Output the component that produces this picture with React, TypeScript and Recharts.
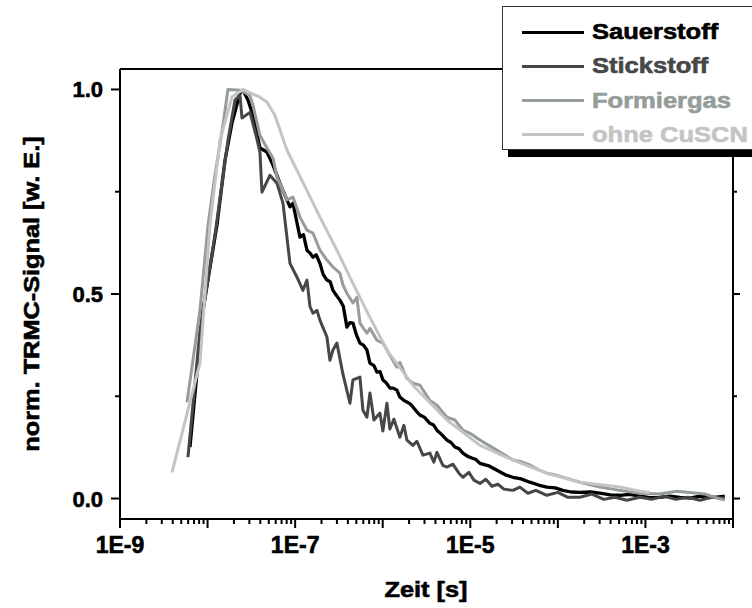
import React from 'react';
import { LineChart, Line, XAxis, YAxis, ReferenceLine } from 'recharts';

// [log10(t / s), normalized TRMC signal]
const sauerstoff = [
  [-8.201, 0.126], [-8.053, 0.46], [-7.893, 0.668], [-7.801, 0.827], [-7.721, 0.918],
  [-7.63, 0.991], [-7.596, 0.998], [-7.539, 0.974], [-7.482, 0.937], [-7.402, 0.857],
  [-7.322, 0.847], [-7.253, 0.815], [-7.174, 0.771], [-7.094, 0.73], [-7.059, 0.713],
  [-7.025, 0.722], [-6.945, 0.639], [-6.905, 0.645], [-6.865, 0.607], [-6.83, 0.6],
  [-6.797, 0.59], [-6.76, 0.596], [-6.717, 0.575], [-6.68, 0.548], [-6.637, 0.534],
  [-6.6, 0.53], [-6.568, 0.509], [-6.53, 0.497], [-6.489, 0.485], [-6.45, 0.47],
  [-6.409, 0.419], [-6.375, 0.43], [-6.34, 0.429], [-6.3, 0.4], [-6.26, 0.38],
  [-6.22, 0.375], [-6.18, 0.363], [-6.146, 0.331], [-6.1, 0.325], [-6.066, 0.309],
  [-6.03, 0.31], [-5.998, 0.29], [-5.96, 0.283], [-5.918, 0.27], [-5.88, 0.27],
  [-5.838, 0.265], [-5.804, 0.248], [-5.76, 0.24], [-5.724, 0.236], [-5.69, 0.232],
  [-5.655, 0.224], [-5.61, 0.212], [-5.575, 0.204], [-5.52, 0.198], [-5.461, 0.184],
  [-5.42, 0.18], [-5.381, 0.167], [-5.32, 0.155], [-5.267, 0.143], [-5.22, 0.137],
  [-5.176, 0.126], [-5.13, 0.122], [-5.084, 0.111], [-5.03, 0.103], [-4.982, 0.099],
  [-4.94, 0.096], [-4.89, 0.086], [-4.79, 0.08], [-4.696, 0.069], [-4.6, 0.058],
  [-4.514, 0.052], [-4.42, 0.048], [-4.32, 0.04], [-4.22, 0.033], [-4.126, 0.028],
  [-4.03, 0.026], [-3.943, 0.02], [-3.85, 0.016], [-3.749, 0.015], [-3.63, 0.016],
  [-3.521, 0.013], [-3.4, 0.009], [-3.292, 0.008], [-3.18, 0.01], [-3.064, 0.006],
  [-2.95, 0.002], [-2.836, 0.003], [-2.72, 0.006], [-2.607, 0.003], [-2.49, 0.001],
  [-2.379, 0.006], [-2.29, 0.005], [-2.208, 0.003], [-2.094, 0.006],
];

const stickstoff = [
  [-8.224, 0.101], [-8.087, 0.411], [-7.916, 0.644], [-7.767, 0.876], [-7.687, 0.974],
  [-7.63, 0.986], [-7.607, 0.93], [-7.516, 0.944], [-7.447, 0.888], [-7.402, 0.847],
  [-7.379, 0.749], [-7.288, 0.79], [-7.208, 0.771], [-7.139, 0.722], [-7.059, 0.575],
  [-6.979, 0.541], [-6.911, 0.509], [-6.865, 0.534], [-6.831, 0.47], [-6.797, 0.453],
  [-6.751, 0.46], [-6.717, 0.436], [-6.637, 0.395], [-6.603, 0.338], [-6.568, 0.363],
  [-6.523, 0.38], [-6.454, 0.304], [-6.374, 0.233], [-6.34, 0.29], [-6.26, 0.297],
  [-6.226, 0.216], [-6.18, 0.199], [-6.146, 0.258], [-6.1, 0.192], [-6.032, 0.209],
  [-5.998, 0.165], [-5.952, 0.233], [-5.918, 0.17], [-5.872, 0.194], [-5.804, 0.15],
  [-5.758, 0.179], [-5.724, 0.143], [-5.655, 0.13], [-5.61, 0.14], [-5.541, 0.106],
  [-5.461, 0.111], [-5.416, 0.089], [-5.381, 0.113], [-5.313, 0.081], [-5.267, 0.077],
  [-5.199, 0.084], [-5.13, 0.062], [-5.084, 0.052], [-5.016, 0.064], [-4.959, 0.045],
  [-4.89, 0.037], [-4.822, 0.047], [-4.753, 0.03], [-4.685, 0.035], [-4.616, 0.023],
  [-4.514, 0.02], [-4.434, 0.028], [-4.342, 0.013], [-4.251, 0.02], [-4.126, 0.008],
  [-4.0, 0.015], [-3.886, 0.003], [-3.749, 0.003], [-3.612, 0.011], [-3.475, -0.002],
  [-3.349, 0.003], [-3.212, -0.004], [-3.064, 0.003], [-2.927, -0.002], [-2.79, 0.006],
  [-2.653, -0.002], [-2.516, 0.003], [-2.379, -0.004], [-2.242, 0.003], [-2.094, 0.001],
];

const formiergas = [
  [-8.235, 0.235], [-8.087, 0.46], [-7.995, 0.668], [-7.916, 0.79], [-7.824, 0.913],
  [-7.767, 1.0], [-7.63, 0.998], [-7.596, 0.995], [-7.516, 0.985], [-7.482, 0.962],
  [-7.402, 0.888], [-7.322, 0.857], [-7.253, 0.832], [-7.208, 0.786], [-7.139, 0.754],
  [-7.094, 0.73], [-7.025, 0.737], [-6.945, 0.688], [-6.865, 0.656], [-6.797, 0.649],
  [-6.717, 0.607], [-6.637, 0.583], [-6.568, 0.566], [-6.489, 0.551], [-6.454, 0.522],
  [-6.409, 0.502], [-6.34, 0.478], [-6.295, 0.492], [-6.26, 0.429], [-6.18, 0.404],
  [-6.146, 0.416], [-6.066, 0.387], [-5.998, 0.38], [-5.918, 0.35], [-5.838, 0.321],
  [-5.804, 0.333], [-5.724, 0.294], [-5.655, 0.282], [-5.575, 0.277], [-5.461, 0.24],
  [-5.381, 0.228], [-5.267, 0.199], [-5.176, 0.192], [-5.084, 0.167], [-4.99, 0.158],
  [-4.89, 0.143], [-4.79, 0.13], [-4.696, 0.118], [-4.6, 0.106], [-4.514, 0.094],
  [-4.42, 0.09], [-4.32, 0.082], [-4.22, 0.07], [-4.126, 0.062], [-4.03, 0.058],
  [-3.943, 0.052], [-3.749, 0.04], [-3.521, 0.028], [-3.292, 0.02], [-3.064, 0.013],
  [-2.836, 0.011], [-2.642, 0.018], [-2.493, 0.015], [-2.322, 0.011], [-2.208, 0.003],
  [-2.094, -0.004],
];

const ohneCuSCN = [
  [-8.406, 0.064], [-8.087, 0.331], [-7.973, 0.668], [-7.858, 0.876], [-7.721, 0.982],
  [-7.596, 1.0], [-7.493, 0.99], [-7.402, 0.981], [-7.322, 0.969], [-7.231, 0.937],
  [-7.094, 0.852], [-6.911, 0.773], [-6.717, 0.688], [-6.523, 0.607], [-6.34, 0.526],
  [-6.146, 0.443], [-5.952, 0.363], [-5.655, 0.277], [-5.267, 0.192], [-4.89, 0.13],
  [-4.514, 0.094], [-4.126, 0.062], [-3.749, 0.04], [-3.292, 0.028], [-3.064, 0.018],
  [-2.95, 0.015],
];

const seriesNames = ['Sauerstoff', 'Stickstoff', 'Formiergas', 'ohne CuSCN'];
const seriesData = [sauerstoff, stickstoff, formiergas, ohneCuSCN];
const seriesColors = ['#000000', '#474747', '#959d99', '#c4c4c4'];
const seriesWidths = [3.3, 3, 3, 3];

const xLabelExps = [-9, -7, -5, -3];
const xLabels = ['1E-9', '1E-7', '1E-5', '1E-3'];
const yTicks = [0, 0.25, 0.5, 0.75, 1];
const yLabels = ['0.0', '', '0.5', '', '1.0'];

const decades = [-9, -8, -7, -6, -5, -4, -3];
const xTicks = [
  ...decades.flatMap((d) => [2, 3, 4, 5, 6, 7, 8, 9].map((k) => d + Math.log10(k))),
  ...decades,
  -2,
];

const font = '"Liberation Sans", Arial, Helvetica, sans-serif';

const XTick = (props: any) => {
  const { x, y, payload } = props;
  const v = payload.value;
  const isDecade = Math.abs(v - Math.round(v)) < 1e-6;
  const idx = xLabelExps.findIndex((e) => Math.abs(e - v) < 1e-6);
  return (
    <g>
      <line x1={x} y1={y} x2={x} y2={y + (isDecade ? 9 : 5)} stroke="#000" strokeWidth={2} />
      {idx >= 0 && (
        <text x={x} y={y + 34} textAnchor="middle" fontFamily={font} fontWeight="bold" fontSize={23}
          fill="#000" stroke="#000" strokeWidth={0.6}>
          {xLabels[idx]}
        </text>
      )}
    </g>
  );
};

const YTickLeft = (props: any) => {
  const { x, y, payload } = props;
  const idx = yTicks.findIndex((t) => Math.abs(t - payload.value) < 1e-6);
  const label = idx >= 0 ? yLabels[idx] : '';
  return (
    <g>
      <line x1={x} y1={y} x2={x - (label ? 9 : 5)} y2={y} stroke="#000" strokeWidth={2} />
      {label && (
        <text x={x - 17} y={y + 8} textAnchor="end" fontFamily={font} fontWeight="bold" fontSize={22}
          fill="#000" stroke="#000" strokeWidth={0.6}>
          {label}
        </text>
      )}
    </g>
  );
};

const YTickRight = (props: any) => {
  const { x, y, payload } = props;
  const major = Math.abs(payload.value * 2 - Math.round(payload.value * 2)) < 1e-6;
  return <line x1={x} y1={y} x2={x + (major ? 7 : 4)} y2={y} stroke="#000" strokeWidth={2} />;
};

export default function App() {
  return (
    <div style={{ position: 'absolute', left: 0, top: 0, width: 752, height: 608, overflow: 'hidden', background: '#fff' }}>
      <LineChart width={752} height={608} margin={{ top: 69, right: 0, bottom: 0, left: 60 }}>
        <XAxis
          xAxisId="b"
          dataKey="x"
          type="number"
          domain={[-9, -2]}
          ticks={xTicks}
          interval={0}
          tick={<XTick />}
          tickLine={false}
          tickSize={0}
          tickMargin={0}
          height={89}
          allowDataOverflow
          axisLine={{ stroke: '#000', strokeWidth: 2 }}
        />
        <YAxis
          yAxisId="l"
          type="number"
          domain={[-0.05, 1.05]}
          ticks={yTicks}
          interval={0}
          tick={<YTickLeft />}
          tickLine={false}
          tickSize={0}
          tickMargin={0}
          width={60}
          allowDataOverflow
          axisLine={{ stroke: '#000', strokeWidth: 2 }}
        />
        <YAxis
          yAxisId="r"
          orientation="right"
          type="number"
          domain={[-0.05, 1.05]}
          ticks={yTicks}
          interval={0}
          tick={<YTickRight />}
          tickLine={false}
          tickSize={0}
          tickMargin={0}
          width={19}
          allowDataOverflow
          axisLine={{ stroke: '#000', strokeWidth: 2 }}
        />
        <ReferenceLine xAxisId="b" yAxisId="l" y={1.05} stroke="#000" strokeWidth={2} />
        {seriesData.map((s, i) => (
          <Line
            key={seriesNames[i]}
            xAxisId="b"
            yAxisId="l"
            data={s.map(([x, y]) => ({ x, y }))}
            dataKey="y"
            name={seriesNames[i]}
            type="linear"
            stroke={seriesColors[i]}
            strokeWidth={seriesWidths[i]}
            strokeLinejoin="round"
            dot={false}
            isAnimationActive={false}
          />
        ))}
      </LineChart>

      <div
        style={{
          position: 'absolute', left: 32, top: 294, whiteSpace: 'nowrap',
          transform: 'translate(-50%, -50%) rotate(-90deg) scaleX(1.15)',
          font: `bold 22px ${font}`, lineHeight: '22px', color: '#000',
          WebkitTextStroke: '0.6px #000',
        }}
      >
        norm. TRMC-Signal [w. E.]
      </div>
      <div
        style={{
          position: 'absolute', left: 426, top: 590, whiteSpace: 'nowrap',
          transform: 'translate(-50%, -50%) scaleX(1.15)',
          font: `bold 22px ${font}`, lineHeight: '22px', color: '#000',
          WebkitTextStroke: '0.6px #000',
        }}
      >
        Zeit [s]
      </div>

      <div
        style={{
          position: 'absolute', left: 502, top: 6, width: 270, height: 144, boxSizing: 'border-box',
          border: '1.5px solid #333', background: '#fff', boxShadow: '6px 7px 0 #000',
        }}
      >
        {seriesNames.map((n, i) => {
          const cy = 25 + i * 34.3;
          return (
            <React.Fragment key={n}>
              <div style={{ position: 'absolute', left: 19, top: cy - 1.5, width: 62, height: 3, background: seriesColors[i] }} />
              <div
                style={{
                  position: 'absolute', left: 89, top: cy - 11, whiteSpace: 'nowrap',
                  font: `bold 22px ${font}`, lineHeight: '22px', color: seriesColors[i],
                  WebkitTextStroke: `0.6px ${seriesColors[i]}`,
                  transform: 'scaleX(1.16)', transformOrigin: 'left center',
                }}
              >
                {n}
              </div>
            </React.Fragment>
          );
        })}
      </div>
    </div>
  );
}
